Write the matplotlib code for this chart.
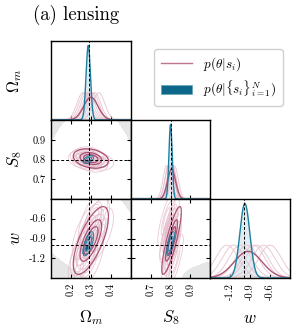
import numpy as np
import matplotlib.pyplot as plt
from matplotlib.lines import Line2D
from matplotlib.patches import Patch

plt.rcParams['font.family'] = 'cmr10'
plt.rcParams['mathtext.fontset'] = 'cm'
plt.rcParams['axes.unicode_minus'] = False

# ── Data ──────
labels = [r'$\Omega_m$', r'$S_8$', r'$w$']
lims = [(0.1, 0.5), (0.6, 1.0), (-1.5, -0.3)]
ticks = [[0.2, 0.3, 0.4], [0.7, 0.8, 0.9], [-1.2, -0.9, -0.6]]
tick_labels = [['0.2', '0.3', '0.4'], ['0.7', '0.8', '0.9'], ['-1.2', '-0.9', '-0.6']]
truth = [0.29, 0.80, -1.0]

# combined posterior p(theta|{s_i})
blue_mean = [0.287, 0.800, -0.98]
blue_sig = [0.011, 0.008, 0.075]
blue_rho = [0.5, 0.65, 0.7]          # pairs (Om,S8), (Om,w), (S8,w)

# single posterior p(theta|s_i)
red_mean = [0.30, 0.805, -0.93]
red_sig = [0.036, 0.02, 0.21]
red_rho = [-0.25, 0.7, 0.85]

# the other single posteriors (faint)
ind_om = [0.26, 0.28, 0.30, 0.32, 0.34, 0.29, 0.27, 0.31]
ind_s8 = [0.80, 0.79, 0.81, 0.80, 0.79, 0.82, 0.81, 0.78]
ind_w = [-1.15, -0.80, -0.95, -0.70, -0.85, -1.25, -1.05, -0.60]
ind_sig = [0.03, 0.018, 0.17]
ind_rho = [-0.2, 0.65, 0.8]

# prior edges (grey excluded areas)
s8_cap, s8_curv = 1.08, 4.75
w_floor = [-1.12, -2.6, 3.0]
w_roof = [-0.3, -4.0, 0.45]
w_s8_edge = [-1.5, 0.25, 0.86, 0.14]

pair = {(0, 1): 0, (0, 2): 1, (1, 2): 2}
r_lines = np.array([1.0, 1.5, 2.45]) ** 2

C_RED = '#9e3a62'
C_PINK = '#e4bccb'
C_BLUE = '#1b7fa0'
C_BDARK = '#0b5676'
C_BLIGHT = '#3a8dab'
C_GREY = '#e6e6e6'


def r2(X, Y, mx, my, sx, sy, rho):
    dx = (X - mx) / sx
    dy = (Y - my) / sy
    return (dx**2 - 2 * rho * dx * dy + dy**2) / (1 - rho**2)


def pdf(x, m, s):
    return np.exp(-0.5 * ((x - m) / s) ** 2) / (np.sqrt(2 * np.pi) * s)


def excluded(j, i, X, Y):
    if (j, i) == (0, 1):
        return Y > s8_cap - s8_curv * (X - 0.3) ** 2
    if (j, i) == (0, 2):
        lo = w_floor[0] + w_floor[1] * (X - 0.1) + w_floor[2] * (X - 0.1) ** 2
        hi = w_roof[0] + w_roof[1] * (X - w_roof[2])
        return (Y < lo) | (Y > hi)
    edge = w_s8_edge[0] + w_s8_edge[1] * np.sqrt(np.clip((X - w_s8_edge[2]) / w_s8_edge[3], 0, None))
    return Y < edge


ind_mean = [ind_om, ind_s8, ind_w]

fig = plt.figure(figsize=(2.94, 3.30), dpi=100)
W, H = 294.0, 330.0
x0s = [51, 130.7, 210.3]
y0s = [41, 120, 199]
pw, ph = 79.7, 79

for i in range(3):
    for j in range(i + 1):
        ax = fig.add_axes([x0s[j] / W, 1 - (y0s[i] + ph) / H, pw / W, ph / H])
        for s in ax.spines.values():
            s.set_linewidth(1.0)
        xs = np.linspace(*lims[j], 300)
        if i == j:
            for k in range(len(ind_om)):
                ax.plot(xs, pdf(xs, ind_mean[j][k], ind_sig[j]), color=C_PINK, lw=0.7, alpha=0.8)
            ax.plot(xs, pdf(xs, red_mean[j], red_sig[j]), color=C_RED, lw=1.0, alpha=0.85)
            yb = pdf(xs, blue_mean[j], blue_sig[j])
            ax.fill_between(xs, 0, yb, color='#d5e5eb', alpha=0.7, lw=0)
            ax.plot(xs, yb, color=C_BLUE, lw=1.0)
            top = yb.max() * 1.06
            ax.axhspan(0, 0.025 * top, color=C_GREY, lw=0)
            ax.axvline(truth[j], color='k', ls='--', lw=0.7, dashes=(3, 2))
            ax.set_ylim(0, top)
            ax.set_yticks([])
            ax.tick_params(direction='in', length=3, width=0.8, top=False, right=False,
                           labelsize=7.5, pad=4)
        else:
            ys = np.linspace(*lims[i], 300)
            X, Y = np.meshgrid(xs, ys)
            p = pair[(j, i)]
            ax.contourf(X, Y, excluded(j, i, X, Y).astype(float), levels=[0.5, 1.5], colors=[C_GREY])
            for k in range(len(ind_om)):
                R = r2(X, Y, ind_mean[j][k], ind_mean[i][k], ind_sig[j], ind_sig[i], ind_rho[p])
                ax.contour(X, Y, R, levels=r_lines, colors=C_PINK, linewidths=0.6, alpha=0.8)
            R = r2(X, Y, red_mean[j], red_mean[i], red_sig[j], red_sig[i], red_rho[p])
            ax.contour(X, Y, R, levels=r_lines, colors=C_RED, linewidths=0.9, alpha=0.85)
            R = r2(X, Y, blue_mean[j], blue_mean[i], blue_sig[j], blue_sig[i], blue_rho[p])
            ax.contourf(X, Y, R, levels=[0, 1.5**2, 2.45**2], colors=[C_BDARK, C_BLIGHT])
            ax.contour(X, Y, R, levels=[1.5**2, 2.45**2], colors=C_BLUE, linewidths=0.6)
            ax.axvline(truth[j], color='k', ls='--', lw=0.7, dashes=(3, 2))
            ax.axhline(truth[i], color='k', ls='--', lw=0.7, dashes=(3, 2))
            ax.set_ylim(*lims[i])
            ax.set_yticks(ticks[i])
            ax.tick_params(direction='in', length=3, width=0.8, top=True, right=True,
                           labelsize=7.5, pad=3.5)
            if j == 0:
                ax.set_yticklabels(tick_labels[i])
            else:
                ax.set_yticklabels([])
        ax.set_xlim(*lims[j])
        ax.set_xticks(ticks[j])
        if i == 2:
            ax.set_xticklabels(tick_labels[j], rotation=90)
        else:
            ax.set_xticklabels([])

# axis labels
for k in range(3):
    fig.text(15 / W, 1 - (y0s[k] + ph / 2) / H, labels[k], rotation=90,
             ha='center', va='center', fontsize=12)
    fig.text((x0s[k] + pw / 2) / W, 1 - 318 / H, labels[k], ha='center', va='center', fontsize=12)

fig.text(33 / W, 1 - 15 / H, '(a) lensing', ha='left', va='center', fontsize=13.5)

handles = [Line2D([], [], color=C_RED, lw=1.0, alpha=0.7),
           Patch(facecolor='#0c6788', edgecolor='#6aa8bd', lw=0.6)]
fig.legend(handles, [r'$p(\theta|s_i)$', r'$p(\theta|\{s_i\}_{i=1}^N)$'],
           loc='upper left', bbox_to_anchor=(154 / W, 1 - 49 / H), fontsize=9.5,
           borderaxespad=0, handlelength=2.4, borderpad=0.5, labelspacing=0.45,
           framealpha=1, edgecolor='#d0d0d0')

plt.savefig('out.png', dpi=100)
